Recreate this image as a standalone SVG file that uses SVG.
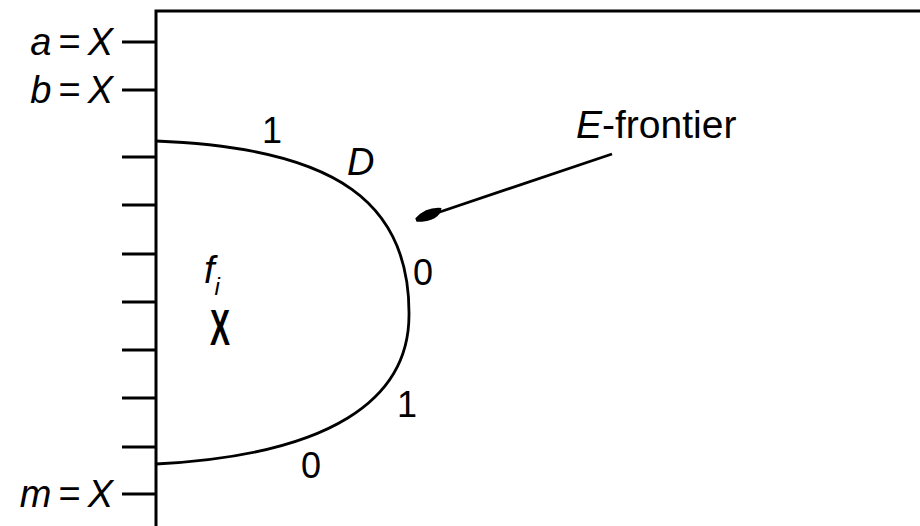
<svg xmlns="http://www.w3.org/2000/svg" width="920" height="526" viewBox="0 0 920 526">
<defs>
<style>
.ln{stroke:#000;stroke-width:3;fill:none}
.cv{stroke:#000;stroke-width:2.8;fill:none}
.t{font-family:"Liberation Sans",Arial,sans-serif;font-size:36px;fill:#000}
.lg{font-size:38px}
.i{font-style:italic}
</style>
<marker id="ah" markerWidth="12" markerHeight="8" refX="10" refY="4" orient="auto" markerUnits="strokeWidth">
<path d="M0,5.2 Q2,0.8 10,3.3 L10,4.7 Q5,7.4 0,5.2 Z" fill="#000"/>
</marker>
</defs>
<rect width="920" height="526" fill="#fff"/>
<g id="frame">
<path class="ln" d="M156,526 V11 H920"/>
</g>
<g id="ticks">
<path class="ln" d="M122,42H156M122,90H156M122,157H156M122,205H156M122,254H156M122,302H156M122,350H156M122,398H156M122,447H156M122,494H156"/>
</g>
<g id="labels-left">
<text class="t lg" x="113" y="55" text-anchor="end"><tspan class="i">a</tspan><tspan dx="7">=</tspan><tspan class="i" dx="7">X</tspan></text>
<text class="t lg" x="113" y="103" text-anchor="end"><tspan class="i">b</tspan><tspan dx="7">=</tspan><tspan class="i" dx="7">X</tspan></text>
<text class="t lg" x="113" y="507" text-anchor="end"><tspan class="i">m</tspan><tspan dx="7">=</tspan><tspan class="i" dx="7">X</tspan></text>
</g>
<g id="region-D">
<path class="cv" d="M156,141 C340,148 410,205 409,315 C409,400 330,455 156,464"/>
<text class="t" x="262" y="143">1</text>
<text class="t lg i" x="347" y="175">D</text>
<text class="t" x="413" y="285">0</text>
<text class="t" x="397" y="417">1</text>
<text class="t" x="301" y="478">0</text>
<text class="t lg i" x="204" y="283">f<tspan style="font-size:24px" dy="12">i</tspan></text>
<text class="t" transform="translate(210,345) scale(0.6,1)" style="font-size:50px;font-weight:bold">X</text>
</g>
<g id="connectors">
<line class="cv" x1="612" y1="154" x2="416" y2="220" marker-end="url(#ah)"/>
</g>
<g id="e-frontier">
<text class="t" x="576" y="138" style="font-size:39px"><tspan class="i">E</tspan>-frontier</text>
</g>
</svg>
